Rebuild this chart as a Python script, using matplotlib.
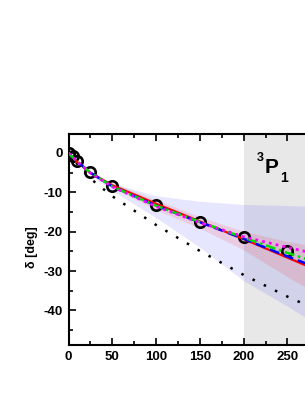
import matplotlib
matplotlib.use("Agg")
import matplotlib.pyplot as plt
from matplotlib.ticker import MultipleLocator, FuncFormatter

plt.rcParams["font.family"] = ["Liberation Sans", "DejaVu Sans"]
plt.rcParams["axes.unicode_minus"] = False

# phase-shift data (3P1), energies in MeV, delta in degrees
e_data = [1, 5, 10, 25, 50, 100, 150, 200, 250]
d_data = [-0.1, -0.9, -2.1, -4.9, -8.3, -13.2, -17.5, -21.3, -24.8]

e_curve = [0, 10, 25, 50, 100, 150, 200, 250, 300, 350]
red = [0, -2.3, -5.1, -8.2, -12.9, -17.4, -21.9, -26.6, -31.3, -36.0]
magenta = [0, -2.2, -5.1, -8.6, -13.6, -17.7, -21.3, -24.0, -26.5, -29.0]
green = [0, -2.2, -5.0, -8.5, -13.4, -17.5, -21.5, -25.4, -29.0, -32.5]
blue = [0, -2.2, -5.0, -8.5, -13.4, -17.6, -21.8, -26.3, -30.5, -34.5]
black = [0, -2.8, -6.5, -11.0, -18.3, -24.9, -31.0, -36.5, -41.5, -46.0]

# uncertainty bands
blue_hi = [0, -2.0, -4.6, -7.8, -11.0, -12.4, -13.2, -13.5, -13.9, -14.2]
blue_lo = [0, -2.4, -5.6, -9.6, -16.5, -24.0, -32.5, -39.0, -46.0, -53.0]
red_hi = [0, -2.2, -4.9, -7.6, -12.0, -16.3, -20.0, -22.6, -24.5, -26.5]
red_lo = [0, -2.4, -5.3, -8.8, -14.5, -19.2, -24.7, -31.5, -38.0, -45.0]

fig = plt.figure(figsize=(3.05, 3.95), dpi=100)
ax = fig.add_axes([0.2246, 0.1266, 1.005, 0.534])

ax.axvspan(200, 400, color="#e8e8e8", lw=0, zorder=0)
ax.fill_between(e_curve, blue_lo, blue_hi, color="#2020ff", alpha=0.11, lw=0, zorder=1)
ax.fill_between(e_curve, red_lo, red_hi, color="#ff2020", alpha=0.13, lw=0, zorder=1)

ax.plot(e_data, d_data, "o", ms=7.5, mfc="none", mec="black", mew=1.9, zorder=2)
ax.plot(e_curve, black, color="black", ls=(0, (1, 4)), lw=1.8, zorder=3)
ax.plot(e_curve, red, color="red", lw=1.6, zorder=4)
ax.plot(e_curve, blue, color="blue", ls=(0, (4, 2)), lw=1.8, zorder=4)
ax.plot(e_curve, green, color="#00dd00", ls=(0, (4, 1.5, 1, 1.5)), lw=1.8, zorder=4)
ax.plot(e_curve, magenta, color="magenta", ls=(0, (1, 1.5)), lw=2, zorder=5)

ax.set_xlim(0, 350)
ax.set_ylim(-48.8, 4.8)
ax.xaxis.set_major_locator(MultipleLocator(50))
ax.xaxis.set_minor_locator(MultipleLocator(25))
# labels beyond the visible part of the axis are left blank
ax.xaxis.set_major_formatter(FuncFormatter(lambda v, p: f"{v:.0f}" if v <= 250 else ""))
ax.yaxis.set_major_locator(MultipleLocator(10))
ax.yaxis.set_minor_locator(MultipleLocator(5))
ax.tick_params(which="both", direction="in", top=True, right=True, width=1.2)
ax.tick_params(which="major", length=5, labelsize=9.5, pad=4)
ax.tick_params(which="minor", length=3)
for lab in ax.get_xticklabels() + ax.get_yticklabels():
    lab.set_fontweight("bold")
for s in ax.spines.values():
    s.set_linewidth(1.5)

ax.set_ylabel("δ [deg]", fontsize=9, fontweight="bold",
              family=["Liberation Sans", "DejaVu Sans"])
ax.yaxis.set_label_coords(-0.098, 0.462)
ax.text(215, 0.2, "3", fontsize=9, fontweight="bold", va="top", ha="left")
ax.text(224, -5.1, "P", fontsize=15, fontweight="bold", va="baseline", ha="left")
ax.text(241.5, -7.4, "1", fontsize=10, fontweight="bold", va="baseline", ha="left")

fig.savefig("out.png", dpi=100)
